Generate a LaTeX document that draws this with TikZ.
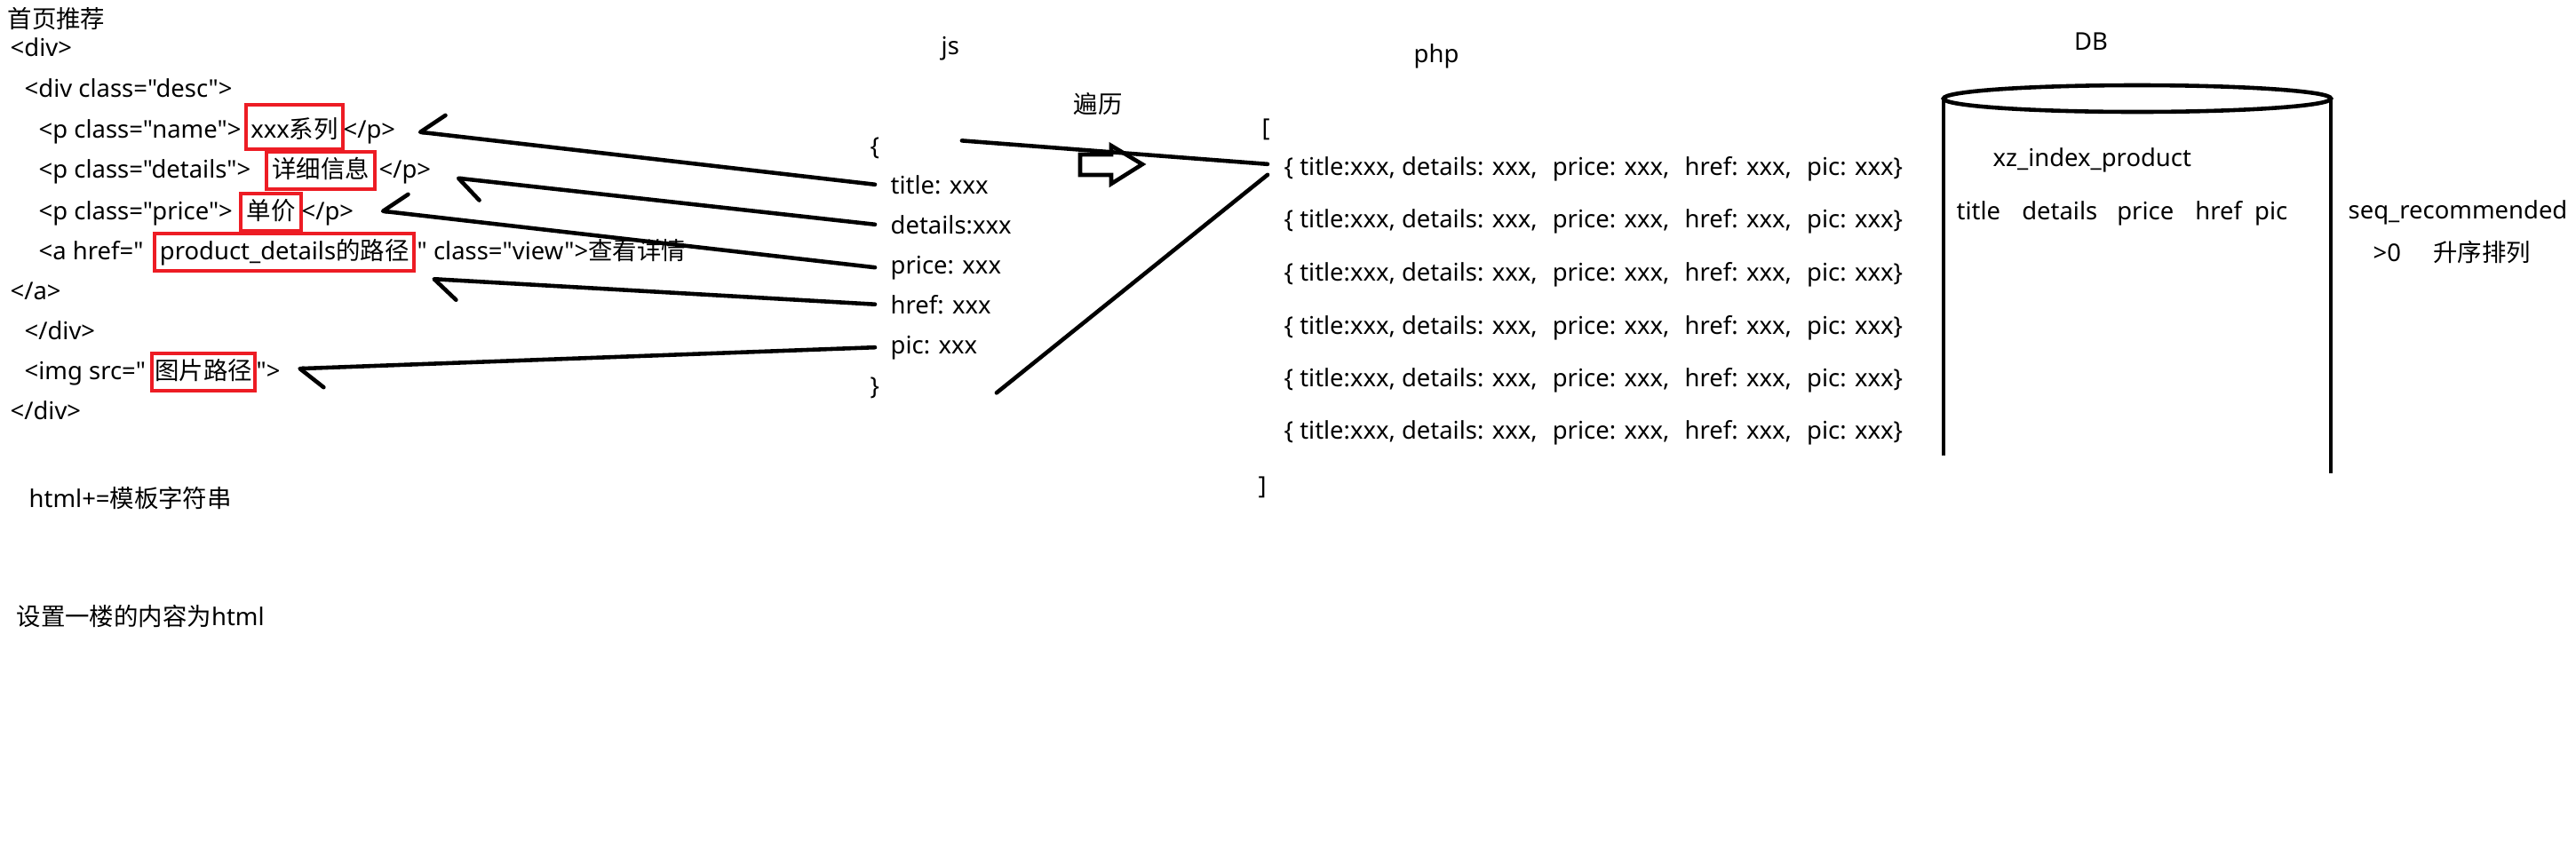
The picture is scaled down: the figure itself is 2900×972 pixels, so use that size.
\documentclass[tikz,border=0pt]{standalone}
\usepackage{fontspec}
\newfontfamily\latin{Noto Sans}
\newfontfamily\cjk{Noto Sans CJK SC}
\usetikzlibrary{arrows.meta}
\definecolor{markred}{RGB}{237,28,36}
\tikzset{
  txt/.style={anchor=base west, inner sep=0pt, font=\latin\fontsize{7.8}{9}\selectfont},
  fld/.style={txt, inner xsep=0.17cm},
  row/.style={txt, inner xsep=0.18cm},
  hilite/.style={txt, draw=markred, line width=1.2pt, inner xsep=0pt, inner ysep=0.04cm,
    text height=0.25cm, text depth=0.09cm},
  link/.style={line width=1.3pt, line cap=round},
  backup/.style={link, -{Straight Barb[harpoon, swap, round, length=0.26cm, width=0.44cm]}},
  backdown/.style={link, -{Straight Barb[harpoon, round, length=0.26cm, width=0.44cm]}},
  dbline/.style={line width=1.3pt},
}
\begin{document}
\begin{tikzpicture}[x=0.01cm, y=-0.01cm]
    \fill[white] (0,0) rectangle (2900,972);
    \useasboundingbox (0,0) rectangle (2900,972);

    % html template
    \node[txt] (hd) at (8,31) {\cjk 首页推荐};
    \node[txt] (dv1) at (11,63) {<div>};
    \node[txt] (dsc) at (27,109) {<div class="desc">};
    \node[txt] (nmL) at (43,155) {<p class="name">};
    \node[hilite, minimum width=1.09cm, text height=0.33cm] (nmV) at (275,155) {xxx{\cjk 系列}};
    \node[txt] (nmR) at (386,155) {</p>};
    \node[txt] (dtL) at (43,200) {<p class="details">};
    \node[hilite, minimum width=1.22cm] (dtV) at (298,200) {\cjk 详细信息};
    \node[txt] (dtR) at (426,200) {</p>};
    \node[txt] (prL) at (43,247) {<p class="price">};
    \node[hilite, minimum width=0.68cm] (prV) at (269,247) {\cjk 单价};
    \node[txt] (prR) at (339,247) {</p>};
    \node[txt] (hrL) at (43,292) {<a href="};
    \node[hilite, minimum width=2.92cm] (hrV) at (172,292) {product\_details{\cjk 的路径}};
    \node[txt] (hrR) at (469,292) {" class="view">{\cjk 查看详情}};
    \node[txt] (aEnd) at (11,337) {</a>};
    \node[txt] (dv2) at (27,382) {</div>};
    \node[txt] (imL) at (27,427) {<img src="};
    \node[hilite, minimum width=1.16cm] (imV) at (169,427) {\cjk 图片路径};
    \node[txt] (imR) at (288,427) {">};
    \node[txt] (dv3) at (11,472) {</div>};
    \node[txt] (tpl) at (32,571) {html+={\cjk 模板字符串}};
    \node[txt] (setf) at (18,704) {{\cjk 设置一楼的内容为}html};

    % js object
    \node[txt] (js) at (1059,61) {js};
    \node[txt] (jo) at (979,174) {\{};
    \node[fld] (jt) at (985,218) {title: xxx};
    \node[fld] (jd) at (985,263) {details:xxx};
    \node[fld] (jp) at (985,308) {price: xxx};
    \node[fld] (jh) at (985,353) {href: xxx};
    \node[fld] (jc) at (985,398) {pic: xxx};
    \node[txt] (jx) at (979,444) {\}};

    \draw[backup] (jt.west) -- ([xshift=0.25cm]nmR.east);
    \draw[backdown] (jd.west) -- ([xshift=0.28cm,yshift=-0.07cm]dtR.east);
    \draw[backup] (jp.west) -- ([xshift=0.3cm,yshift=0.03cm]prR.east);
    \draw[backdown] (jh.west) -- ([xshift=0.18cm,yshift=-0.07cm]hrV.south east);
    \draw[backdown] (jc.west) -- ([xshift=0.19cm,yshift=0.02cm]imR.east);

    % iterate
    \node[txt] (it) at (1208,127) {\cjk 遍历};
    \draw[line width=1.3pt] (1216,174) -- (1251,174) -- (1251,164) -- (1286,185)
      -- (1251,207) -- (1251,197) -- (1216,197) -- cycle;

    % php array
    \node[txt] (php) at (1591,70) {php};
    \node[txt] (lb) at (1420,153) {[};
    \foreach \i/\y in {1/197, 2/256, 3/316, 4/376, 5/435, 6/494}
      \node[row] (r\i) at (1427,\y) {\{ title:xxx, details: xxx,\hspace{0.1cm} price: xxx,\hspace{0.1cm} href: xxx,\hspace{0.1cm} pic: xxx\}};
    \node[txt] (rb) at (1416,556) {]};

    \draw[link] ([xshift=0.92cm,yshift=0.08cm]jo.east) -- ([yshift=0.05cm]r1.west);
    \draw[link] ([xshift=1.31cm,yshift=-0.06cm]jx.east) -- ([yshift=-0.07cm]r1.west);

    % DB
    \node[txt, anchor=base] (db) at (2354,56) {DB};
    \draw[dbline] (2406,111) ellipse (2.18cm and 0.15cm);
    \draw[dbline] (2188,111) -- (2188,513);
    \draw[dbline] (2624,111) -- (2624,533);
    \node[txt] (tbl) at (2243,187) {xz\_index\_product};
    \node[txt] (cols) at (2202,247) {title\hspace{0.17cm} details\hspace{0.15cm} price\hspace{0.17cm} href\hspace{0.07cm} pic};
    \node[txt] (seq) at (2643,246) {seq\_recommended};
    \node[txt] (asc) at (2671,294) {>0\hspace{0.36cm}{\cjk 升序排列}};
\end{tikzpicture}
\end{document}
